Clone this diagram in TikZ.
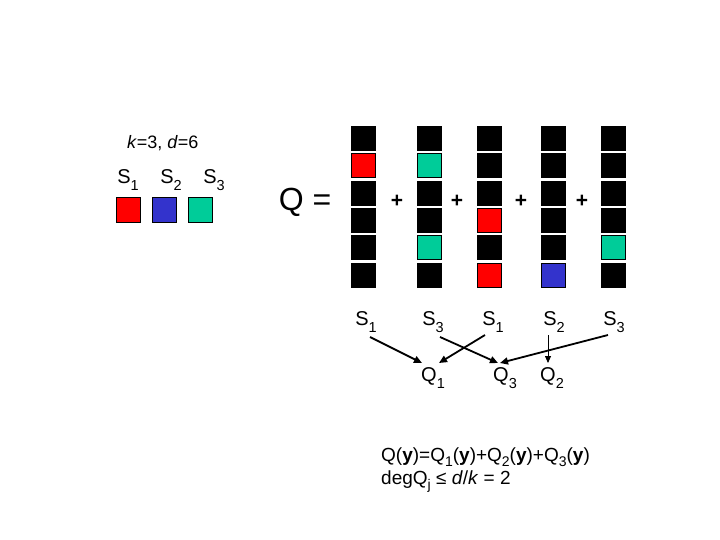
\documentclass[tikz,border=0pt]{standalone}
\usepackage{fontspec}
\setmainfont{Liberation Sans}
\usetikzlibrary{arrows.meta,calc}
\definecolor{cred}{RGB}{255,0,0}
\definecolor{cblue}{RGB}{51,51,204}
\definecolor{cgreen}{RGB}{0,204,153}
\newcommand{\sbs}[1]{\raisebox{-0.38em}{\fontsize{14.5}{14.5}\selectfont #1}}
\newcommand{\fsb}[1]{\raisebox{-0.28em}{\fontsize{14}{14}\selectfont #1}}
\begin{document}
\begin{tikzpicture}[x=1pt,y=-1pt,
  cell/.style={minimum width=24.2pt,minimum height=24.2pt,inner sep=0pt,draw=black,line width=0.8pt},
  lab/.style={font=\fontsize{20}{20}\selectfont,inner sep=0pt},
  txt/.style={font=\fontsize{19}{19}\selectfont,inner sep=0pt,anchor=west},
  plus/.style={font=\fontsize{21}{21}\selectfont\bfseries,inner sep=0pt},
  arr/.style={line width=1.8pt,-{Triangle[length=8pt,width=7pt]}},
  arrthin/.style={line width=0.8pt,-{Triangle[length=7pt,width=6pt]}}]
\useasboundingbox (0,0) rectangle (720,540);
% left legend
\node[txt,font=\fontsize{18}{18}\selectfont] (kd) at (127,143) {\textit{k}=3, \textit{d}=6};
\node[lab] (l1) at (128,180) {S\sbs{1}};
\node[lab] (l2) at (171,180) {S\sbs{2}};
\node[lab] (l3) at (214,180) {S\sbs{3}};
\node[cell,fill=cred] (sq1) at (128.5,210) {};
\node[cell,fill=cblue] (sq2) at (164.5,210) {};
\node[cell,fill=cgreen] (sq3) at (200,210) {};
\node[font=\fontsize{32}{32}\selectfont,inner sep=0pt] (qeq) at (305,202) {Q =};
% columns
\foreach \col/\x/\colors in {1/363.5/{black,cred,black,black,black,black},
                             2/429.5/{black,cgreen,black,black,cgreen,black},
                             3/489.5/{black,black,black,cred,black,cred},
                             4/553.5/{black,black,black,black,black,cblue},
                             5/613.5/{black,black,black,black,cgreen,black}}{
  \foreach \c [count=\r] in \colors {
    \node[cell,fill=\c] (c\col-\r) at (\x,{138.5+(\r-1)*27.3}) {};
  }
}
\node[plus] (p1) at (397,201) {+};
\node[plus] (p2) at (457,201) {+};
\node[plus] (p3) at (521,201) {+};
\node[plus] (p4) at (582,201) {+};
% labels
\node[lab] (s1) at (366,322) {S\sbs{1}};
\node[lab] (s2) at (433,322) {S\sbs{3}};
\node[lab] (s3) at (493,322) {S\sbs{1}};
\node[lab] (s4) at (554,322) {S\sbs{2}};
\node[lab] (s5) at (614,322) {S\sbs{3}};
\node[lab] (q1) at (433,378) {Q\sbs{1}};
\node[lab] (q3) at (505,378) {Q\sbs{3}};
\node[lab] (q2) at (552,378) {Q\sbs{2}};
% arrows
\draw[arr] ($(s1)+(4,15)$) -- ($(q1)+(-11,-15)$);
\draw[arr] ($(s3)+(-8,13)$) -- ($(q1)+(6,-15)$);
\draw[arr] ($(s2)+(7,15)$) -- ($(q3)+(-7,-15)$);
\draw[arrthin] ($(s4)+(-6,13)$) -- ($(q2)+(-4,-15)$);
\draw[arr] ($(s5)+(-6,13)$) -- ($(q3)+(-5,-15)$);
% formulas
\node[txt,anchor=base west] (f1) at (381,461) {Q(\textbf{y})=Q\fsb{1}(\textbf{y})+Q\fsb{2}(\textbf{y})+Q\fsb{3}(\textbf{y})};
\node[txt,anchor=base west] (f2) at (381,484) {degQ\fsb{j} ≤ \textit{d}/\textit{k} = 2};
\end{tikzpicture}
\end{document}
